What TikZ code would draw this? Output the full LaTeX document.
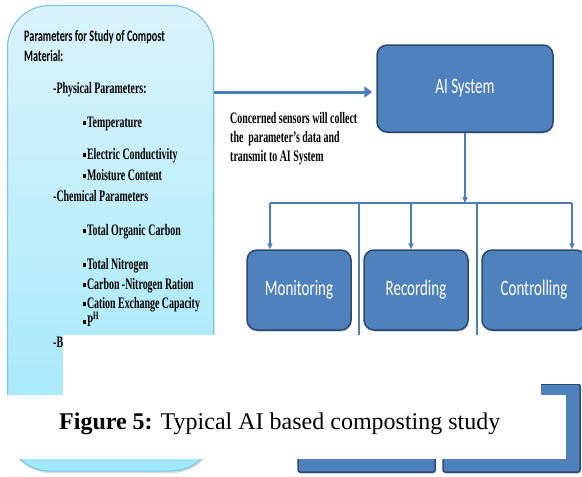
\documentclass[tikz,border=0pt]{standalone}
\usepackage{fontspec}
\setmainfont{Liberation Serif}
\newfontfamily\narrowserif{Liberation Serif}[FakeStretch=0.62]
\newfontfamily\narrowsans{Carlito}[FakeStretch=0.68]
\newfontfamily\titlesans{Carlito}[FakeStretch=0.64]
\usetikzlibrary{arrows.meta,shadows}

\definecolor{boxblue}{HTML}{4F81BD}
\definecolor{boxedge}{HTML}{2A4A72}
\definecolor{linkblue}{HTML}{4A7EBB}
\definecolor{paneltop}{HTML}{DAF3FB}
\definecolor{panelbot}{HTML}{9FE8FB}
\definecolor{paneledge}{HTML}{7CC6E2}

\newcommand\sqbullet{\rule[2pt]{3pt}{3.8pt}\hspace{0.8pt}}

\tikzset{
  panelbox/.style={draw=paneledge, line width=1.2pt, top color=paneltop,
    bottom color=panelbot, rounded corners=42pt, inner sep=0pt,
    drop shadow={shadow xshift=1pt, shadow yshift=-2pt, opacity=0.3}},
  paneltitle/.style={anchor=base west, inner sep=0pt,
    font=\titlesans\bfseries\fontsize{16}{18}\selectfont},
  paneltext/.style={anchor=base west, inner sep=0pt,
    font=\narrowserif\bfseries\fontsize{16}{18}\selectfont},
  bluebox/.style={draw=boxedge, line width=1.5pt, fill=boxblue,
    rounded corners=10pt, inner sep=0pt, text=white,
    font=\narrowsans\fontsize{22}{26}\selectfont,
    drop shadow={shadow xshift=0.8pt, shadow yshift=-1.5pt, opacity=0.45}},
  flatbox/.style={bluebox, rounded corners=2pt},
  link/.style={draw=linkblue, line width=1.4pt},
  linkarrow/.style={link, -{Triangle[length=6pt,width=5pt]}},
  feedarrow/.style={draw=linkblue, line width=3pt,
    -{Triangle[length=8pt,width=11pt]}},
  cover/.style={fill=white}
}

\begin{document}
\begin{tikzpicture}[x=1pt,y=-1pt]
\useasboundingbox (0,0) rectangle (582,477);
\clip (0,0) rectangle (582,477);

% parameter panel
\node[panelbox, minimum width=206pt, minimum height=465.5pt] (panel) at (110.5,238.25) {};
\node[paneltitle] (title1) at (24,41) {Parameters for Study of Compost};
\node[paneltitle] (title2) at (24,61) {Material:};
\node[paneltext] (phys) at (53,93) {-Physical Parameters:};
\node[paneltext] (temp) at (83,127) {\sqbullet Temperature};
\node[paneltext] (ec) at (83,159) {\sqbullet Electric Conductivity};
\node[paneltext] (moist) at (83,180) {\sqbullet Moisture Content};
\node[paneltext] (chem) at (53,201) {-Chemical Parameters};
\node[paneltext] (toc) at (83,235) {\sqbullet Total Organic Carbon};
\node[paneltext] (tn) at (83,269) {\sqbullet Total Nitrogen};
\node[paneltext] (cn) at (83,289) {\sqbullet Carbon -Nitrogen Ration};
\node[paneltext] (cec) at (83,308) {\sqbullet Cation Exchange Capacity};
\node[paneltext] (ph) at (83,326) {\sqbullet P\textsuperscript{H}};
\node[paneltext] (bio) at (53,347) {-B};

% sensor note
\node[paneltext] (note1) at (230,123) {Concerned sensors will collect};
\node[paneltext] (note2) at (230,142) {the\ \ parameter’s data and};
\node[paneltext] (note3) at (230,161) {transmit to AI System};

% AI system and its outputs
\node[bluebox, minimum width=176pt, minimum height=87pt] (ai) at (465,88.5) {AI System};
\node[bluebox, minimum width=104pt, minimum height=80pt] (mon) at (299,290) {Monitoring};
\node[bluebox, minimum width=104pt, minimum height=80pt] (rec) at (416,290) {Recording};
\node[bluebox, minimum width=104pt, minimum height=80pt] (ctl) at (534,290) {Controlling};

% lower row
\node[flatbox, minimum width=137pt, minimum height=88pt] (lowa) at (366.5,428) {};
\node[flatbox, minimum width=137pt, minimum height=88pt] (lowb) at (511.5,428) {};

% data feed into the AI system
\coordinate (feed) at (213.5,92);
\draw[feedarrow, shorten >=4pt] (feed) -- (ai.west |- feed);

% distribution bus
\coordinate (hub) at (465,203);
\coordinate (busl) at (270,203);
\coordinate (busr) at (572,203);
\coordinate (busm) at (411,203);
\coordinate (sep1) at (359,203);
\coordinate (sep2) at (477,203);
\draw[linkarrow] (ai.south) -- (hub);
\draw[link] (busl) -- (busr);
\draw[linkarrow] (busl) -- (busl |- mon.north);
\draw[linkarrow] (busm) -- (busm |- rec.north);
\draw[linkarrow] (busr) -- (busr |- ctl.north);
\draw[link] (sep1) -- ++(0,132);
\draw[link] (sep2) -- ++(0,132);

% white masks and caption
\fill[cover] (63,335) rectangle (582,384);
\fill[cover] (63,384) rectangle (541,395);
\fill[cover] (0,395) rectangle (566,459);
\node[anchor=base west, inner sep=0pt, font=\fontsize{24}{28}\selectfont] (caption) at (59,429)
  {\textbf{Figure 5:} Typical AI based composting study};
\end{tikzpicture}
\end{document}
